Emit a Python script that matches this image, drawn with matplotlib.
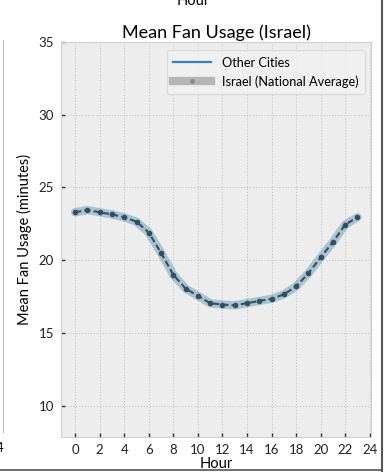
import matplotlib
matplotlib.use("Agg")
import matplotlib.pyplot as plt
from matplotlib.lines import Line2D

hours = list(range(24))
israel_mean = [23.3, 23.45, 23.3, 23.15, 22.95, 22.65, 21.9, 20.5, 19.0, 18.05,
               17.55, 17.05, 16.95, 16.9, 17.05, 17.2, 17.35, 17.65, 18.2, 19.1,
               20.2, 21.25, 22.45, 22.95]
x_ticks = list(range(0, 25, 2))
y_ticks = [10, 15, 20, 25, 30, 35]

plt.rcParams['font.family'] = ['Lato', 'DejaVu Sans']

fig = plt.figure(figsize=(3.86, 4.72), dpi=100)
ax = fig.add_axes([61 / 386, 35 / 472, 310 / 386, 395 / 472])
ax.set_facecolor('#ededed')

# shaded band behind the national average line
ax.plot(hours, israel_mean, color='#5b8fb0', alpha=0.45, lw=6,
        solid_capstyle='round', zorder=2)
ax.plot(hours, israel_mean, color='#2f4f62', lw=1.5, ls=(0, (3, 1.5)),
        marker='o', ms=3, zorder=3)

ax.set_xlim(-1.15, 24.1)
ax.set_ylim(7.85, 35)
ax.set_xticks(x_ticks)
ax.set_yticks(y_ticks)
ax.tick_params(direction='in', length=3, width=1, color='#333333',
               labelsize=9.5, labelcolor='#222222', pad=5)
ax.grid(True, color='#c4c4c4', ls=':', lw=0.8)
ax.set_axisbelow(True)
for sp in ax.spines.values():
    sp.set_color('#cfcfcf')

ax.set_title("Mean Fan Usage (Israel)", fontsize=13, pad=3)
ax.set_xlabel("Hour", fontsize=10.5, labelpad=1)
ax.set_ylabel("Mean Fan Usage (minutes)", fontsize=10.5, labelpad=5)

handles = [Line2D([], [], color='#3a7fb5', lw=1.6),
           Line2D([], [], color='#b5b5b5', lw=6, marker='o', ms=2.5,
                   markerfacecolor='#8a8a8a', markeredgecolor='#8a8a8a')]
ax.legend(handles, ["Other Cities", "Israel (National Average)"],
          loc='upper right', fontsize=9.2, frameon=True, facecolor='#f2f2f2',
          edgecolor='#d5d5d5', handlelength=3.0, borderpad=0.5,
          bbox_to_anchor=(1.0, 0.995))

# bits of neighbouring panels cut off by the crop
fig.text(0.5, 0.997, "Hour", ha='center', va='center', fontsize=10.5)
fig.text(0.0, 24 / 472, "4", ha='center', va='center', fontsize=9.5)
fig.add_artist(Line2D([3 / 386, 3 / 386], [40 / 472, 432 / 472],
                      color='#bbbbbb', lw=0.8))
fig.add_artist(Line2D([382 / 386, 382 / 386], [0, 1], color='#555555', lw=1.5))
fig.add_artist(Line2D([0, 382 / 386], [2 / 472, 2 / 472], color='#555555', lw=1.2))

plt.savefig("out.png", dpi=100)
